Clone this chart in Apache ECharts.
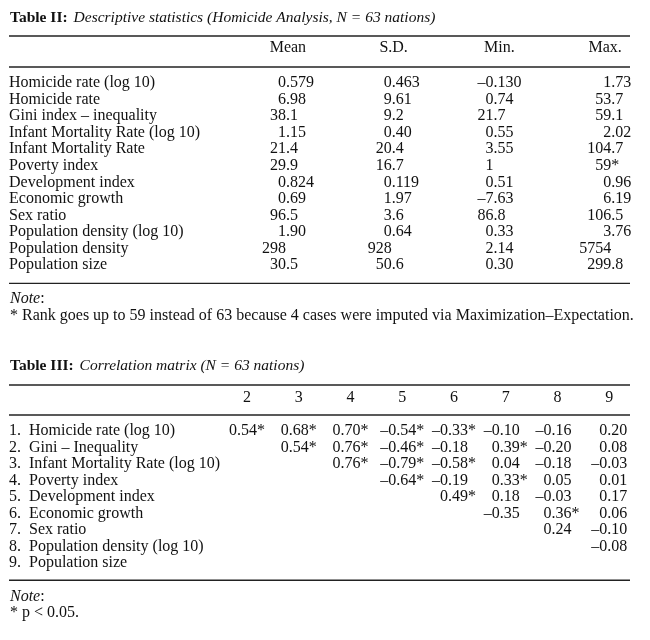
<!DOCTYPE html>
<html>
<head>
<meta charset="utf-8">
<script src="https://cdn.jsdelivr.net/npm/echarts@6/dist/echarts.min.js"></script>
<style>
  html, body { margin: 0; padding: 0; background: #fff; }
  #main { width: 650px; height: 640px; }
</style>
</head>
<body>
<div id="main"></div>
<script>
// ---- Table II: descriptive statistics ----
const descRows = ['Homicide rate (log 10)', 'Homicide rate', 'Gini index – inequality',
  'Infant Mortality Rate (log 10)', 'Infant Mortality Rate', 'Poverty index', 'Development index',
  'Economic growth', 'Sex ratio', 'Population density (log 10)', 'Population density', 'Population size'];
const descCols = ['Mean', 'S.D.', 'Min.', 'Max.'];
const meanVals = ['0.579', '6.98', '38.1', '1.15', '21.4', '29.9', '0.824', '0.69', '96.5', '1.90', '298', '30.5'];
const sdVals = ['0.463', '9.61', '9.2', '0.40', '20.4', '16.7', '0.119', '1.97', '3.6', '0.64', '928', '50.6'];
const minVals = ['–0.130', '0.74', '21.7', '0.55', '3.55', '1', '0.51', '–7.63', '86.8', '0.33', '2.14', '0.30'];
const maxVals = ['1.73', '53.7', '59.1', '2.02', '104.7', '59*', '0.96', '6.19', '106.5', '3.76', '5754', '299.8'];

// ---- Table III: correlation matrix (upper triangle, row i starts at column i) ----
const corrRows = ['Homicide rate (log 10)', 'Gini – Inequality', 'Infant Mortality Rate (log 10)',
  'Poverty index', 'Development index', 'Economic growth', 'Sex ratio',
  'Population density (log 10)', 'Population size'];
const corrCols = ['2', '3', '4', '5', '6', '7', '8', '9'];
const corr = [
  ['0.54*', '0.68*', '0.70*', '–0.54*', '–0.33*', '–0.10', '–0.16', '0.20'],
  ['0.54*', '0.76*', '–0.46*', '–0.18', '0.39*', '–0.20', '0.08'],
  ['0.76*', '–0.79*', '–0.58*', '0.04', '–0.18', '–0.03'],
  ['–0.64*', '–0.19', '0.33*', '0.05', '0.01'],
  ['0.49*', '0.18', '–0.03', '0.17'],
  ['–0.35', '0.36*', '0.06'],
  ['0.24', '–0.10'],
  ['–0.08']
];

const FONT = '"Liberation Serif", "Times New Roman", serif';
const FS = 16;
const INK = '#111';

// layout
const X0 = 9, X1 = 630;
const t2 = { title: 18, head: 48, row0: 83, rowH: 16.55, left: 235, width: 423 };
const t3 = { title: 366, head: 398, row0: 431, rowH: 16.5, left: 221, width: 414 };
t2.rule1 = 36; t2.rule2 = 67; t3.rule1 = 385; t3.rule2 = 415;
t2.top = t2.row0 - t2.rowH / 2; t2.height = descRows.length * t2.rowH; t2.rule3 = t2.top + t2.height + 10;
t3.top = t3.row0 - t3.rowH / 2; t3.height = corrRows.length * t3.rowH; t3.rule3 = t3.top + t3.height + 9;

const ctx = document.createElement('canvas').getContext('2d');
ctx.font = FS + 'px "Liberation Serif"';
const tw = s => ctx.measureText(s).width;

function split(s) {
  const i = s.indexOf('.');
  if (i >= 0) return { int: s.slice(0, i), frac: s.slice(i) };
  const m = s.match(/^([^*]*)(.*)$/);
  return { int: m[1], frac: m[2] };
}

// decimal alignment: the widest int part + widest fraction are centred in the column
function buildCells(list) {
  const offs = {}, mi = {}, mf = {};
  list.forEach(d => {
    const p = split(d.text);
    d.int = p.int; d.frac = p.frac;
    mi[d.c] = Math.max(mi[d.c] || 0, tw(p.int));
    mf[d.c] = Math.max(mf[d.c] || 0, tw(p.frac));
  });
  Object.keys(mi).forEach(c => { offs[c] = (mi[c] - mf[c]) / 2; });
  return { cells: list, offs: offs };
}

const descCells = [];
[meanVals, sdVals, minVals, maxVals].forEach((col, c) => {
  col.forEach((v, r) => descCells.push({ c: c, r: r, text: v }));
});
const corrCells = [];
corr.forEach((row, r) => {
  row.forEach((v, j) => corrCells.push({ c: r + j, r: r, text: v }));
});
const desc = buildCells(descCells);
const cm = buildCells(corrCells);

function render(tab) {
  return function (params, api) {
    const cell = tab.cells[params.dataIndex];
    const p = api.coord([api.value(0), api.value(1)]);
    const x = p[0] + tab.offs[cell.c];
    const st = { fontSize: FS, fontFamily: FONT, fill: INK, verticalAlign: 'middle' };
    return {
      type: 'group',
      children: [
        { type: 'text', x: x, y: p[1], style: Object.assign({ text: cell.int, align: 'right' }, st) },
        { type: 'text', x: x, y: p[1], style: Object.assign({ text: cell.frac, align: 'left' }, st) }
      ]
    };
  };
}

function xAx(gi, cols, t) {
  return {
    gridIndex: gi, type: 'category', data: cols, position: 'top',
    axisLine: { show: false }, axisTick: { show: false }, splitLine: { show: false },
    axisLabel: { interval: 0, margin: t.top - t.head, verticalAlign: 'middle',
      fontSize: FS, fontFamily: FONT, color: INK }
  };
}
function yAx(gi, rows, t, numbered) {
  const lab = { interval: 0, align: 'left', margin: t.left - X0, verticalAlign: 'middle',
    fontSize: FS, fontFamily: FONT, color: INK };
  if (numbered) {
    lab.formatter = (v, i) => '{n|' + (i + 1) + '.}{t|' + v + '}';
    lab.rich = {
      n: { width: 20, fontSize: FS, fontFamily: FONT, color: INK },
      t: { fontSize: FS, fontFamily: FONT, color: INK }
    };
  }
  return {
    gridIndex: gi, type: 'category', data: rows, inverse: true,
    axisLine: { show: false }, axisTick: { show: false }, splitLine: { show: false },
    axisLabel: lab
  };
}

const rule = y => ({ type: 'line', shape: { x1: X0, y1: y, x2: X1, y2: y },
  style: { stroke: '#222', lineWidth: 1.3 } });

const richT = {
  b: { fontWeight: 'bold', fontSize: 15.5, fontFamily: FONT, color: INK, padding: [0, 6, 0, 0] },
  i: { fontWeight: 'normal', fontStyle: 'italic', fontSize: 15.5, fontFamily: FONT, color: INK },
  ni: { fontWeight: 'normal', fontStyle: 'italic', fontSize: FS, fontFamily: FONT, color: INK },
  r: { fontWeight: 'normal', fontSize: FS, fontFamily: FONT, color: INK }
};
const txt = (y, text) => ({ left: 10, top: y - 9, padding: 0, text: text,
  textStyle: { fontWeight: 'normal', lineHeight: 18, rich: richT } });

const chart = echarts.init(document.getElementById('main'), null, { renderer: 'canvas' });
chart.setOption({
  animation: false,
  backgroundColor: '#fff',
  title: [
    txt(t2.title, '{b|Table II:}{i|Descriptive statistics (Homicide Analysis, N = 63 nations)}'),
    txt(t2.rule3 + 15, '{ni|Note}{r|:}'),
    txt(t2.rule3 + 32, '{r|* Rank goes up to 59 instead of 63 because 4 cases were imputed via Maximization–Expectation.}'),
    txt(t3.title, '{b|Table III:}{i|Correlation matrix (N = 63 nations)}'),
    txt(t3.rule3 + 17, '{ni|Note}{r|:}'),
    txt(t3.rule3 + 33, '{r|* p < 0.05.}')
  ],
  grid: [
    { left: t2.left, top: t2.top, width: t2.width, height: t2.height, outerBoundsMode: 'none' },
    { left: t3.left, top: t3.top, width: t3.width, height: t3.height, outerBoundsMode: 'none' }
  ],
  xAxis: [xAx(0, descCols, t2), xAx(1, corrCols, t3)],
  yAxis: [yAx(0, descRows, t2, false), yAx(1, corrRows, t3, true)],
  graphic: [rule(t2.rule1), rule(t2.rule2), rule(t2.rule3), rule(t3.rule1), rule(t3.rule2), rule(t3.rule3)],
  series: [
    { type: 'custom', xAxisIndex: 0, yAxisIndex: 0, renderItem: render(desc), silent: true,
      data: desc.cells.map(d => [d.c, d.r]) },
    { type: 'custom', xAxisIndex: 1, yAxisIndex: 1, renderItem: render(cm), silent: true,
      data: cm.cells.map(d => [d.c, d.r]) }
  ]
});
</script>
</body>
</html>
